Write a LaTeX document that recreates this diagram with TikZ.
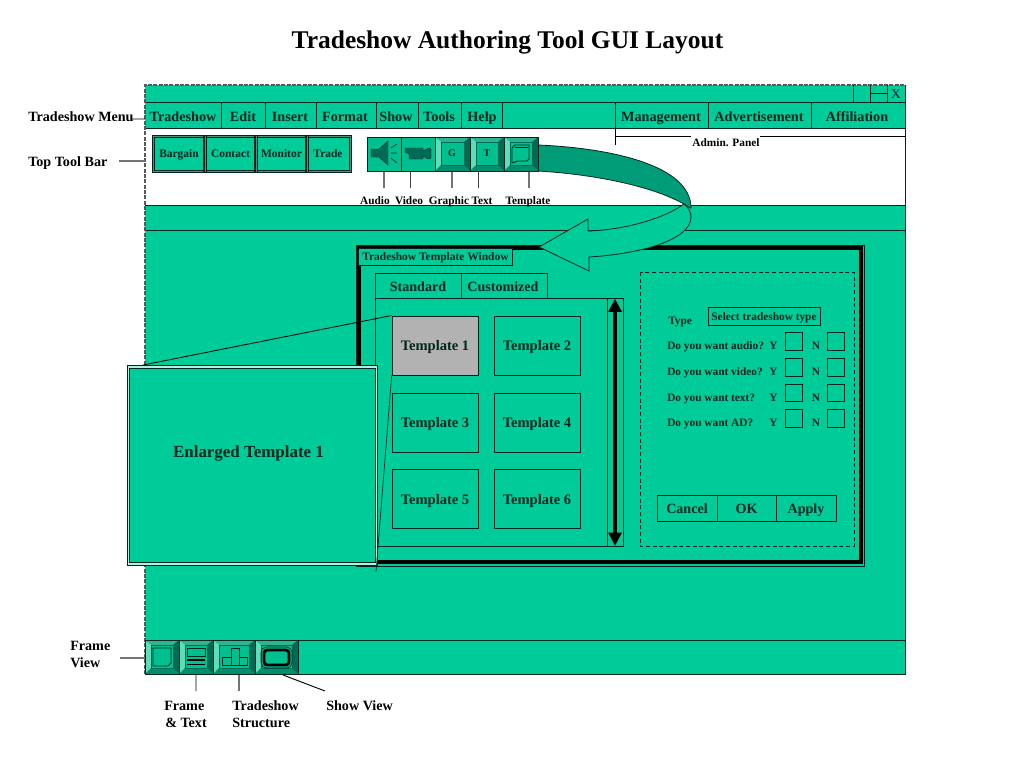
\documentclass[tikz,border=0pt]{standalone}
\usepackage{fontspec}
\usetikzlibrary{arrows.meta}
\setmainfont{Liberation Serif}
\definecolor{gr}{HTML}{00CC99}
\definecolor{bt}{HTML}{00C090}
\definecolor{dk}{HTML}{006B55}
\definecolor{md}{HTML}{009C78}
\definecolor{tp}{HTML}{2CB58F}
\definecolor{bm}{HTML}{008F6C}
\definecolor{lt}{HTML}{5FDDB9}
\definecolor{ink}{HTML}{00261E}
\definecolor{gy}{HTML}{B2B2B2}
\newcommand{\fsz}[1]{\fontsize{#1}{#1}\selectfont\bfseries}
\newcommand{\bevelbtn}[4]{%
  \fill[bt] (#1,#2) rectangle (#3,#4);
  \fill[tp] (#1,#2) -- (#3,#2) -- (#3-6,#2+5) -- (#1+6,#2+5) -- cycle;
  \fill[lt] (#1,#2) -- (#1+6,#2+5) -- (#1+6,#4-6) -- (#1,#4) -- cycle;
  \fill[dk] (#3,#2) -- (#3-6,#2+5) -- (#3-6,#4-6) -- (#3,#4) -- cycle;
  \fill[bm] (#1,#4) -- (#1+6,#4-6) -- (#3-6,#4-6) -- (#3,#4) -- cycle;
  \draw[dk,line width=.4pt] (#1+6,#2+5) rectangle (#3-6,#4-6);
  \draw[ink,line width=.6pt] (#1,#2) rectangle (#3,#4);
}
\tikzset{
  x=.75pt,y=-.75pt,
  uni/.style={text height=.66em,text depth=.22em},
  ln/.style={ink,line width=.6pt},
  leader/.style={black!55,line width=.8pt},
  lab/.style={inner sep=0pt,font=\fsz{10.6},text=black,uni},
  menu/.style={inner sep=0pt,font=\fsz{10.65},text=ink,uni},
  tb/.style={inner sep=0pt,font=\fsz{8.6},text=ink,uni},
  tl/.style={inner sep=0pt,font=\fsz{8.5},text=black,uni},
  form/.style={inner sep=0pt,font=\fsz{8.5},text=ink,anchor=west,uni},
  tmpl/.style={inner sep=0pt,font=\fsz{10.55},text=ink,uni},
  tcell/.style={draw=ink,line width=.5pt,minimum width=64.5pt,minimum height=44.5pt,inner sep=0pt,font=\fsz{10.9},text=ink},
  cellt/.style={inner sep=0pt,font=\fsz{10.9},text=ink,uni},
  chk/.style={draw=ink,line width=.6pt,minimum width=13.2pt,minimum height=13.2pt,inner sep=0pt},
}
\begin{document}
\begin{tikzpicture}
\useasboundingbox[fill=white] (0,0) rectangle (1024,768);
\node[inner sep=0pt,font=\fsz{19.1},text=black,uni] (title) at (507.5,45.5) {Tradeshow Authoring Tool GUI Layout};
% main window
\fill[gr] (145,85) rectangle (905,674);
\fill[white] (145,128) rectangle (905,205);
\draw[ln] (145,102) -- (905,102) (145,128) -- (905,128) (145,205) -- (905,205) (145,230) -- (905,230) (145,640) -- (905,640);
\draw[black!65,dash pattern=on 3pt off 1pt,line width=.8pt] (145,674) -- (145,85) -- (905,85);
\draw[ln] (905,85) -- (905,674) -- (145,674);
% title bar controls
\draw[ln] (853,85) -- (853,102) (870,85) -- (870,102) (887,85) -- (887,102) (870,93) -- (887,93);
\node[inner sep=0pt,font=\fontsize{10}{10}\selectfont,text=ink] (closex) at (896,94) {X};
% menu
\foreach \x in {221,265,316,376,418,461,502,615,708,811}{\draw[ln] (\x,102) -- (\x,128);}
\node[menu] (m1) at (183,118.5) {Tradeshow};
\node[menu] (m2) at (243,118.5) {Edit};
\node[menu] (m3) at (290,118.5) {Insert};
\node[menu] (m4) at (345,118.5) {Format};
\node[menu] (m5) at (396,118.5) {Show};
\node[menu] (m6) at (439,118.5) {Tools};
\node[menu] (m7) at (482,118.5) {Help};
\node[menu] (m8) at (661,118.5) {Management};
\node[menu] (m9) at (759,118.5) {Advertisement};
\node[menu] (m10) at (857,118.5) {Affiliation};
% admin panel
\node[tl] (admin) at (726,144) {Admin. Panel};
\coordinate (ad1) at (615,128); \coordinate (ad2) at (615,145); \coordinate (ad3) at (615,136);
\coordinate (ad4) at (691,136); \coordinate (ad5) at (760,136); \coordinate (ad6) at (905,136);
\draw[black,line width=.6pt] (ad1) -- (ad2) (ad3) -- (ad4) (ad5) -- (ad6);
% top toolbar 1
\fill[ink] (152,135) rectangle (352,173);
\fill[black!20!md!60!gy] (153,136) rectangle (351,172);
\fill[gr] (154.5,137.5) rectangle (349.5,170.5);
\draw[ink,line width=.8pt] (154.5,137.5) rectangle (349.5,170.5);
\foreach \x in {205,256,307}{\draw[ink,line width=2.4pt] (\x,136) -- (\x,172);\draw[black!20!md!60!gy,line width=.6pt] (\x,136) -- (\x,172);}
\node[tb] (b1) at (179,155) {Bargain};
\node[tb] (b2) at (230.5,155) {Contact};
\node[tb] (b3) at (281.5,155) {Monitor};
\node[tb] (b4) at (328,155) {Trade};
% leaders of toolbar 2
\coordinate (la) at (384,171); \coordinate (la2) at (384,188);
\coordinate (lv) at (410,171); \coordinate (lv2) at (410,188);
\coordinate (lg) at (452,171); \coordinate (lg2) at (452,188);
\coordinate (lt1) at (478,171); \coordinate (lt2) at (478,188);
\coordinate (lp) at (529,171); \coordinate (lp2) at (529,188);
\draw[leader] (la) -- (la2) (lg) -- (lg2) (lp) -- (lp2);
\draw[black!75,line width=.7pt] (lv) -- (lv2) (lt1) -- (lt2);
% template window frame
\draw[ink,line width=.6pt] (356,245) rectangle (864,566);
\draw[black,line width=2.8pt] (359,248) rectangle (861,562);
\fill[gr] (358,248) rectangle (512,265);
\draw[ink,line width=.6pt] (358,248) rectangle (512,265);
\node[tb,anchor=west] (wt) at (362,257.5) {Tradeshow Template Window};
% curved arrow
\draw[ink,line width=.6pt,fill=md] (538,145) .. controls (610,148) and (691,165) .. (691,208)
   -- (690,208) -- (684,204) .. controls (650,185) and (590,174) .. (538,171) -- cycle;
\draw[ink,line width=.6pt,fill=gr] (684,204) .. controls (688,207) and (691,212) .. (691,217)
   .. controls (691,240) and (640,254) .. (589,257) -- (589,271) -- (539,247) -- (588,219) -- (588,231)
   .. controls (625,230) and (665,218) .. (684,204) -- cycle;
% toolbar 2
\fill[bt] (367,137) rectangle (435,171);
\draw[ink,line width=.7pt] (367,137) rectangle (435,171) (401,137) -- (401,171);
\bevelbtn{435}{137}{470}{171}
\bevelbtn{470}{137}{504}{171}
\bevelbtn{504}{137}{538}{171}
\node[tb,font=\fsz{7.5}] (gb) at (452,154) {G};
\node[tb,font=\fsz{7.5}] (tbn) at (487,154) {T};
\draw[ink,line width=.7pt] (512,148) -- (515,145) -- (529,145) -- (529,159) -- (527,161) -- (518,161) -- (512,163) -- cycle;
\draw[ink,line width=.7pt] (515,147) -- (528,147);
% speaker
\fill[dk,draw=ink,line width=.3pt] (371,149) -- (379,149) -- (388,141) -- (388,165) -- (379,157) -- (371,157) -- cycle;
\draw[ink,line width=.5pt] (391,148) -- (397,144) (391,153) -- (397,153) (391,158) -- (397,163);
% camera
\fill[dk,draw=ink,line width=.3pt] (405,148) -- (423,148) -- (423,151) -- (429,148) -- (431,149) -- (431,158) -- (428,159) -- (423,156) -- (423,159) -- (409,159) -- (409,154) -- (405,152) -- cycle;
% toolbar labels
\node[tl] (t1) at (375,202) {Audio};
\node[tl] (t2) at (409,202) {Video};
\node[tl] (t3) at (449,202) {Graphic};
\node[tl] (t4) at (482,202) {Text};
\node[tl] (t5) at (528,202) {Template};
% tabs
\draw[ln] (375,298) -- (375,273) -- (547,273) -- (547,298) (461,273) -- (461,298);
\node[tmpl] (tab1) at (418,288.8) {Standard};
\node[tmpl] (tab2) at (503,288.8) {Customized};
\draw[ln] (375,298) rectangle (607,546);
\draw[ln] (607,298) rectangle (623,546);
\coordinate (sc1) at (615,298.5); \coordinate (sc2) at (615,546);
\draw[black,line width=3.4pt,{Triangle[length=10pt,width=9.5pt]}-{Triangle[length=10pt,width=9.5pt]}] (sc1) -- (sc2);
% templates
\node[tcell,fill=gy] (T1) at (435,345.5) {};
\node[cellt] (T1t) at (435,348) {Template 1};
\foreach \n/\cx/\cy/\tcy/\lbl in {T2/537/345.5/348/Template 2,T3/435/422.5/425/Template 3,T4/537/422.5/425/Template 4,T5/435/499/502/Template 5,T6/537/499/502/Template 6}{
  \node[tcell] (\n) at (\cx,\cy) {};
  \node[cellt] (\n t) at (\cx,\tcy) {\lbl};
}
% form
\draw[ink,dash pattern=on 3pt off 2pt,line width=.6pt] (640,272) rectangle (854,546);
\node[form] (ty) at (668,321.5) {Type};
\node[draw=ink,line width=.7pt,minimum width=84pt,minimum height=13.5pt,inner sep=0pt] (sel) at (764,316) {};
\node[form,anchor=center] (selt) at (764,317.5) {Select tradeshow type};
\foreach \i/\cy/\q in {1/346.8/Do you want audio?,2/372.5/Do you want video?,3/398.2/Do you want text?,4/423.8/Do you want AD?}{
  \node[form] (q\i) at (667,\cy) {\q};
  \node[form,anchor=center] (yl\i) at (773.5,\cy) {Y};
  \node[form,anchor=center] (nl\i) at (816,\cy) {N};
  \node[chk] (yb\i) at (794,\cy-5.3) {};
  \node[chk] (nb\i) at (836,\cy-5.3) {};
}
\draw[ln] (657,495) rectangle (836,521) (717,495) -- (717,521) (776,495) -- (776,521);
\node[tmpl] (cn) at (687,511) {Cancel};
\node[tmpl] (ok) at (746.5,511) {OK};
\node[tmpl] (ap) at (806,511) {Apply};
% enlargement
\coordinate (z1) at (143,365); \coordinate (z2) at (376,572);
\draw[black,line width=.6pt] (T1.north west) -- (z1);
\fill[white!70!gr] (127,365) rectangle (377,565);
\draw[ink,line width=.7pt] (127,365) rectangle (377,565);
\node[draw=ink,line width=.7pt,fill=gr,minimum width=184.5pt,minimum height=145.5pt,inner sep=0pt] (big) at (252.2,465) {};
\node[inner sep=0pt,font=\fsz{12.7},text=ink,uni] (bigt) at (248.5,454.5) {Enlarged Template 1};
\draw[ink,line width=.5pt] (T1.south west) -- (z2);
% bottom bar
\bevelbtn{145}{640}{179}{674}
\bevelbtn{179}{640}{213}{674}
\bevelbtn{213}{640}{255}{674}
\bevelbtn{255}{640}{298}{674}
\draw[ink,line width=.6pt] (153,648) -- (171,648) -- (171,663) -- (168,666) -- (153,666) -- cycle;
\draw[ink,line width=.6pt] (187,648) rectangle (205,656);
\draw[black,line width=1.2pt] (187,660) -- (205,660) (187,664.5) -- (205,664.5);
\draw[ink,line width=.6pt] (222,657) -- (231,657) -- (231,648) -- (239,648) -- (239,657) -- (247,657) -- (247,665) -- (222,665) -- cycle (231,657) -- (231,665) (239,657) -- (239,665);
\draw[black,line width=2.2pt,rounded corners=2.5pt] (264,650) rectangle (289,665);
\draw[ink,line width=.5pt,rounded corners=4pt] (261,647) rectangle (292,668);
% outside labels
\node[lab,anchor=west] (lm) at (28,118.5) {Tradeshow Menu};
\node[lab,anchor=west] (lb) at (28,164) {Top Tool Bar};
\node[lab,anchor=west] (lf) at (70,648) {Frame};
\node[lab,anchor=west] (lf2) at (70,664.5) {View};
\node[lab,anchor=west] (lft) at (164,708) {Frame};
\node[lab,anchor=west] (lft2) at (165,725) {\&~Text};
\node[lab,anchor=west] (lts) at (232,708) {Tradeshow};
\node[lab,anchor=west] (lts2) at (232,725) {Structure};
\node[lab,anchor=west] (lsv) at (326,708) {Show View};
\coordinate (e1) at (131,119); \coordinate (e2) at (145,119);
\coordinate (e3) at (119,161); \coordinate (e4) at (145,161);
\coordinate (e5) at (120,658); \coordinate (e6) at (145,658);
\coordinate (e7) at (196,675); \coordinate (e8) at (196,691);
\coordinate (e9) at (239,675); \coordinate (e10) at (239,691);
\coordinate (e11) at (283,675); \coordinate (e12) at (325,691);
\draw[black,line width=.7pt] (e1) -- (e2) (e7) -- (e8) (e11) -- (e12);
\draw[leader] (e3) -- (e4) (e5) -- (e6) (e9) -- (e10);
\end{tikzpicture}
\end{document}
